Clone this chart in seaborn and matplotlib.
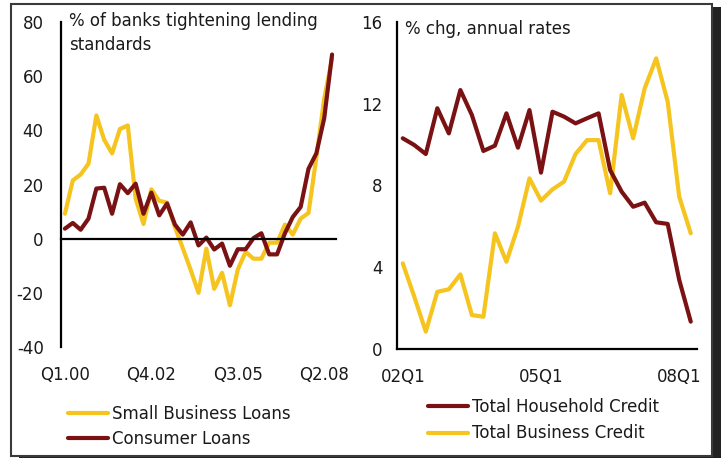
import matplotlib
matplotlib.use("Agg")
import matplotlib.pyplot as plt
from matplotlib.patches import Rectangle
import numpy as np
import pandas as pd
import seaborn as sns

# ---- data -------------------------------------------------------------
# Senior loan officer survey, quarterly Q1.00 .. Q3.08
left_tick_labels = ["Q1.00", "Q4.02", "Q3.05", "Q2.08"]
small_business_loans = [9.2, 21.5, 23.7, 27.7, 45.5, 36.5, 31.5, 40.5, 41.8, 14.8,
                        5.4, 18.2, 14.0, 13.3, 4.3, -3.5, -11.5, -20.0, -3.7, -18.5,
                        -12.6, -24.6, -11.4, -4.9, -7.4, -7.4, -1.5, -1.5, 5.2, 1.5,
                        7.4, 9.5, 30.0, 51.7, 66.5]
consumer_loans = [3.7, 5.8, 3.3, 7.4, 18.5, 18.8, 9.2, 20.1, 16.8, 20.3,
                  9.2, 17.0, 8.6, 13.0, 5.2, 1.5, 6.0, -2.5, 0.4, -4.0,
                  -1.8, -10.0, -3.9, -3.9, 0.2, 2.0, -5.8, -5.8, 2.0, 8.0,
                  11.7, 25.8, 31.5, 44.5, 68.0]

# Credit growth, quarterly 02Q1 .. 08Q2
right_tick_labels = ["02Q1", "05Q1", "08Q1"]
household_credit = [10.31, 9.98, 9.54, 11.78, 10.55, 12.67, 11.45, 9.69, 9.95, 11.53,
                    9.85, 11.69, 8.63, 11.61, 11.37, 11.04, 11.29, 11.53, 8.76, 7.70,
                    6.96, 7.16, 6.20, 6.12, 3.38, 1.34]
business_credit = [4.19, 2.56, 0.85, 2.80, 2.92, 3.65, 1.66, 1.58, 5.66, 4.27,
                   5.98, 8.35, 7.26, 7.81, 8.19, 9.54, 10.22, 10.22, 7.62, 12.43,
                   10.31, 12.75, 14.22, 12.10, 7.45, 5.66]

YELLOW = "#F6C41F"
MAROON = "#7A1214"
INK = "#1a1a1a"

sns.set_theme(style="white")
plt.rcParams["font.family"] = ["DejaVu Sans"]
plt.rcParams["font.size"] = 12
plt.rcParams["axes.unicode_minus"] = False

W, H = 721, 458
fig = plt.figure(figsize=(W / 100, H / 100), dpi=100)
fig.patch.set_facecolor("white")

# outer frame with a drop shadow on the right
fig.patches.append(Rectangle((19 / W, 1 - 462 / H), 702 / W, 455 / H,
                             transform=fig.transFigure, facecolor="#222222",
                             edgecolor="none", zorder=0))
fig.patches.append(Rectangle((11 / W, 1 - 456 / H), 701 / W, 452 / H,
                             transform=fig.transFigure, facecolor="white",
                             edgecolor="#3a3a3a", linewidth=1.5, zorder=1))

ax1 = fig.add_axes([61 / W, 1 - 347 / H, 275 / W, 325 / H])
ax2 = fig.add_axes([397 / W, 1 - 349 / H, 299.5 / W, 327 / H])
for ax in (ax1, ax2):
    ax.set_facecolor("none")
    ax.set_zorder(2)

df_left = pd.DataFrame({"idx": np.arange(len(small_business_loans)),
                        "Small Business Loans": small_business_loans,
                        "Consumer Loans": consumer_loans})
df_right = pd.DataFrame({"idx": np.arange(len(household_credit)),
                         "Total Household Credit": household_credit,
                         "Total Business Credit": business_credit})

LW = 3.0
sns.lineplot(data=df_left, x="idx", y="Small Business Loans", color=YELLOW,
             lw=LW, ax=ax1, label="Small Business Loans")
sns.lineplot(data=df_left, x="idx", y="Consumer Loans", color=MAROON,
             lw=LW, ax=ax1, label="Consumer Loans")
sns.lineplot(data=df_right, x="idx", y="Total Business Credit", color=YELLOW,
             lw=LW, ax=ax2, label="Total Business Credit")
sns.lineplot(data=df_right, x="idx", y="Total Household Credit", color=MAROON,
             lw=LW, ax=ax2, label="Total Household Credit")

for ax in (ax1, ax2):
    ax.set_xlabel("")
    ax.set_ylabel("")
    ax.get_legend().remove()
    for s in ("top", "right"):
        ax.spines[s].set_visible(False)
    for s in ("left", "bottom"):
        ax.spines[s].set_color("black")
        ax.spines[s].set_linewidth(1.6)
    ax.tick_params(axis="y", which="major", direction="out", length=5.5,
                   width=1.5, color="black", labelcolor=INK, labelsize=12)
    ax.tick_params(axis="x", which="major", direction="out", length=5,
                   width=1.5, color="black")
    ax.tick_params(axis="x", which="minor", length=0, labelcolor=INK,
                   labelsize=12)

# left panel: category axis crossing at zero
n_left = len(small_business_loans)
ax1.set_xlim(-0.5, n_left - 0.5)
ax1.set_ylim(-40, 80)
ax1.set_yticks(np.arange(-40, 81, 20))
ax1.tick_params(axis="y", pad=7)
ax1.spines["bottom"].set_position(("data", 0))
ax1.set_xticks([-0.5, 9.5, 19.5, 29.5], labels=[""] * 4)
ax1.set_xticks([0, 11, 22, 33], labels=left_tick_labels, minor=True)
ax1.tick_params(axis="x", which="minor", pad=92)

# right panel
n_right = len(household_credit)
ax2.set_xlim(-0.5, n_right - 0.5)
ax2.set_ylim(0, 16)
ax2.set_yticks(np.arange(0, 17, 4))
ax2.tick_params(axis="y", pad=5)
ax2.set_xticks([-0.5, 11.5, 23.5], labels=[""] * 3)
ax2.set_xticks([0, 12, 24], labels=right_tick_labels, minor=True)
ax2.tick_params(axis="x", which="minor", pad=14)

ax1.text(0.03, 0.914, "% of banks tightening lending\nstandards",
         transform=ax1.transAxes, ha="left", va="baseline", fontsize=12,
         color=INK, linespacing=1.4)
ax2.text(0.026, 0.963, "% chg, annual rates", transform=ax2.transAxes,
         ha="left", va="baseline", fontsize=12, color=INK)

# legends below each panel
h1, l1 = ax1.get_legend_handles_labels()
fig.legend(h1, l1, loc="upper left", bbox_to_anchor=(68 / W, 1 - 405 / H),
           frameon=False, fontsize=12, handlelength=2.4, handletextpad=0.25,
           labelspacing=0.4, borderpad=0, borderaxespad=0, labelcolor=INK)
h2, l2 = ax2.get_legend_handles_labels()
order = [1, 0]
fig.legend([h2[i] for i in order], [l2[i] for i in order], loc="upper left",
           bbox_to_anchor=(428 / W, 1 - 398 / H), frameon=False, fontsize=12,
           handlelength=2.4, handletextpad=0.25, labelspacing=0.5, borderpad=0,
           borderaxespad=0, labelcolor=INK)

fig.savefig("out.png", dpi=100, facecolor="white")
